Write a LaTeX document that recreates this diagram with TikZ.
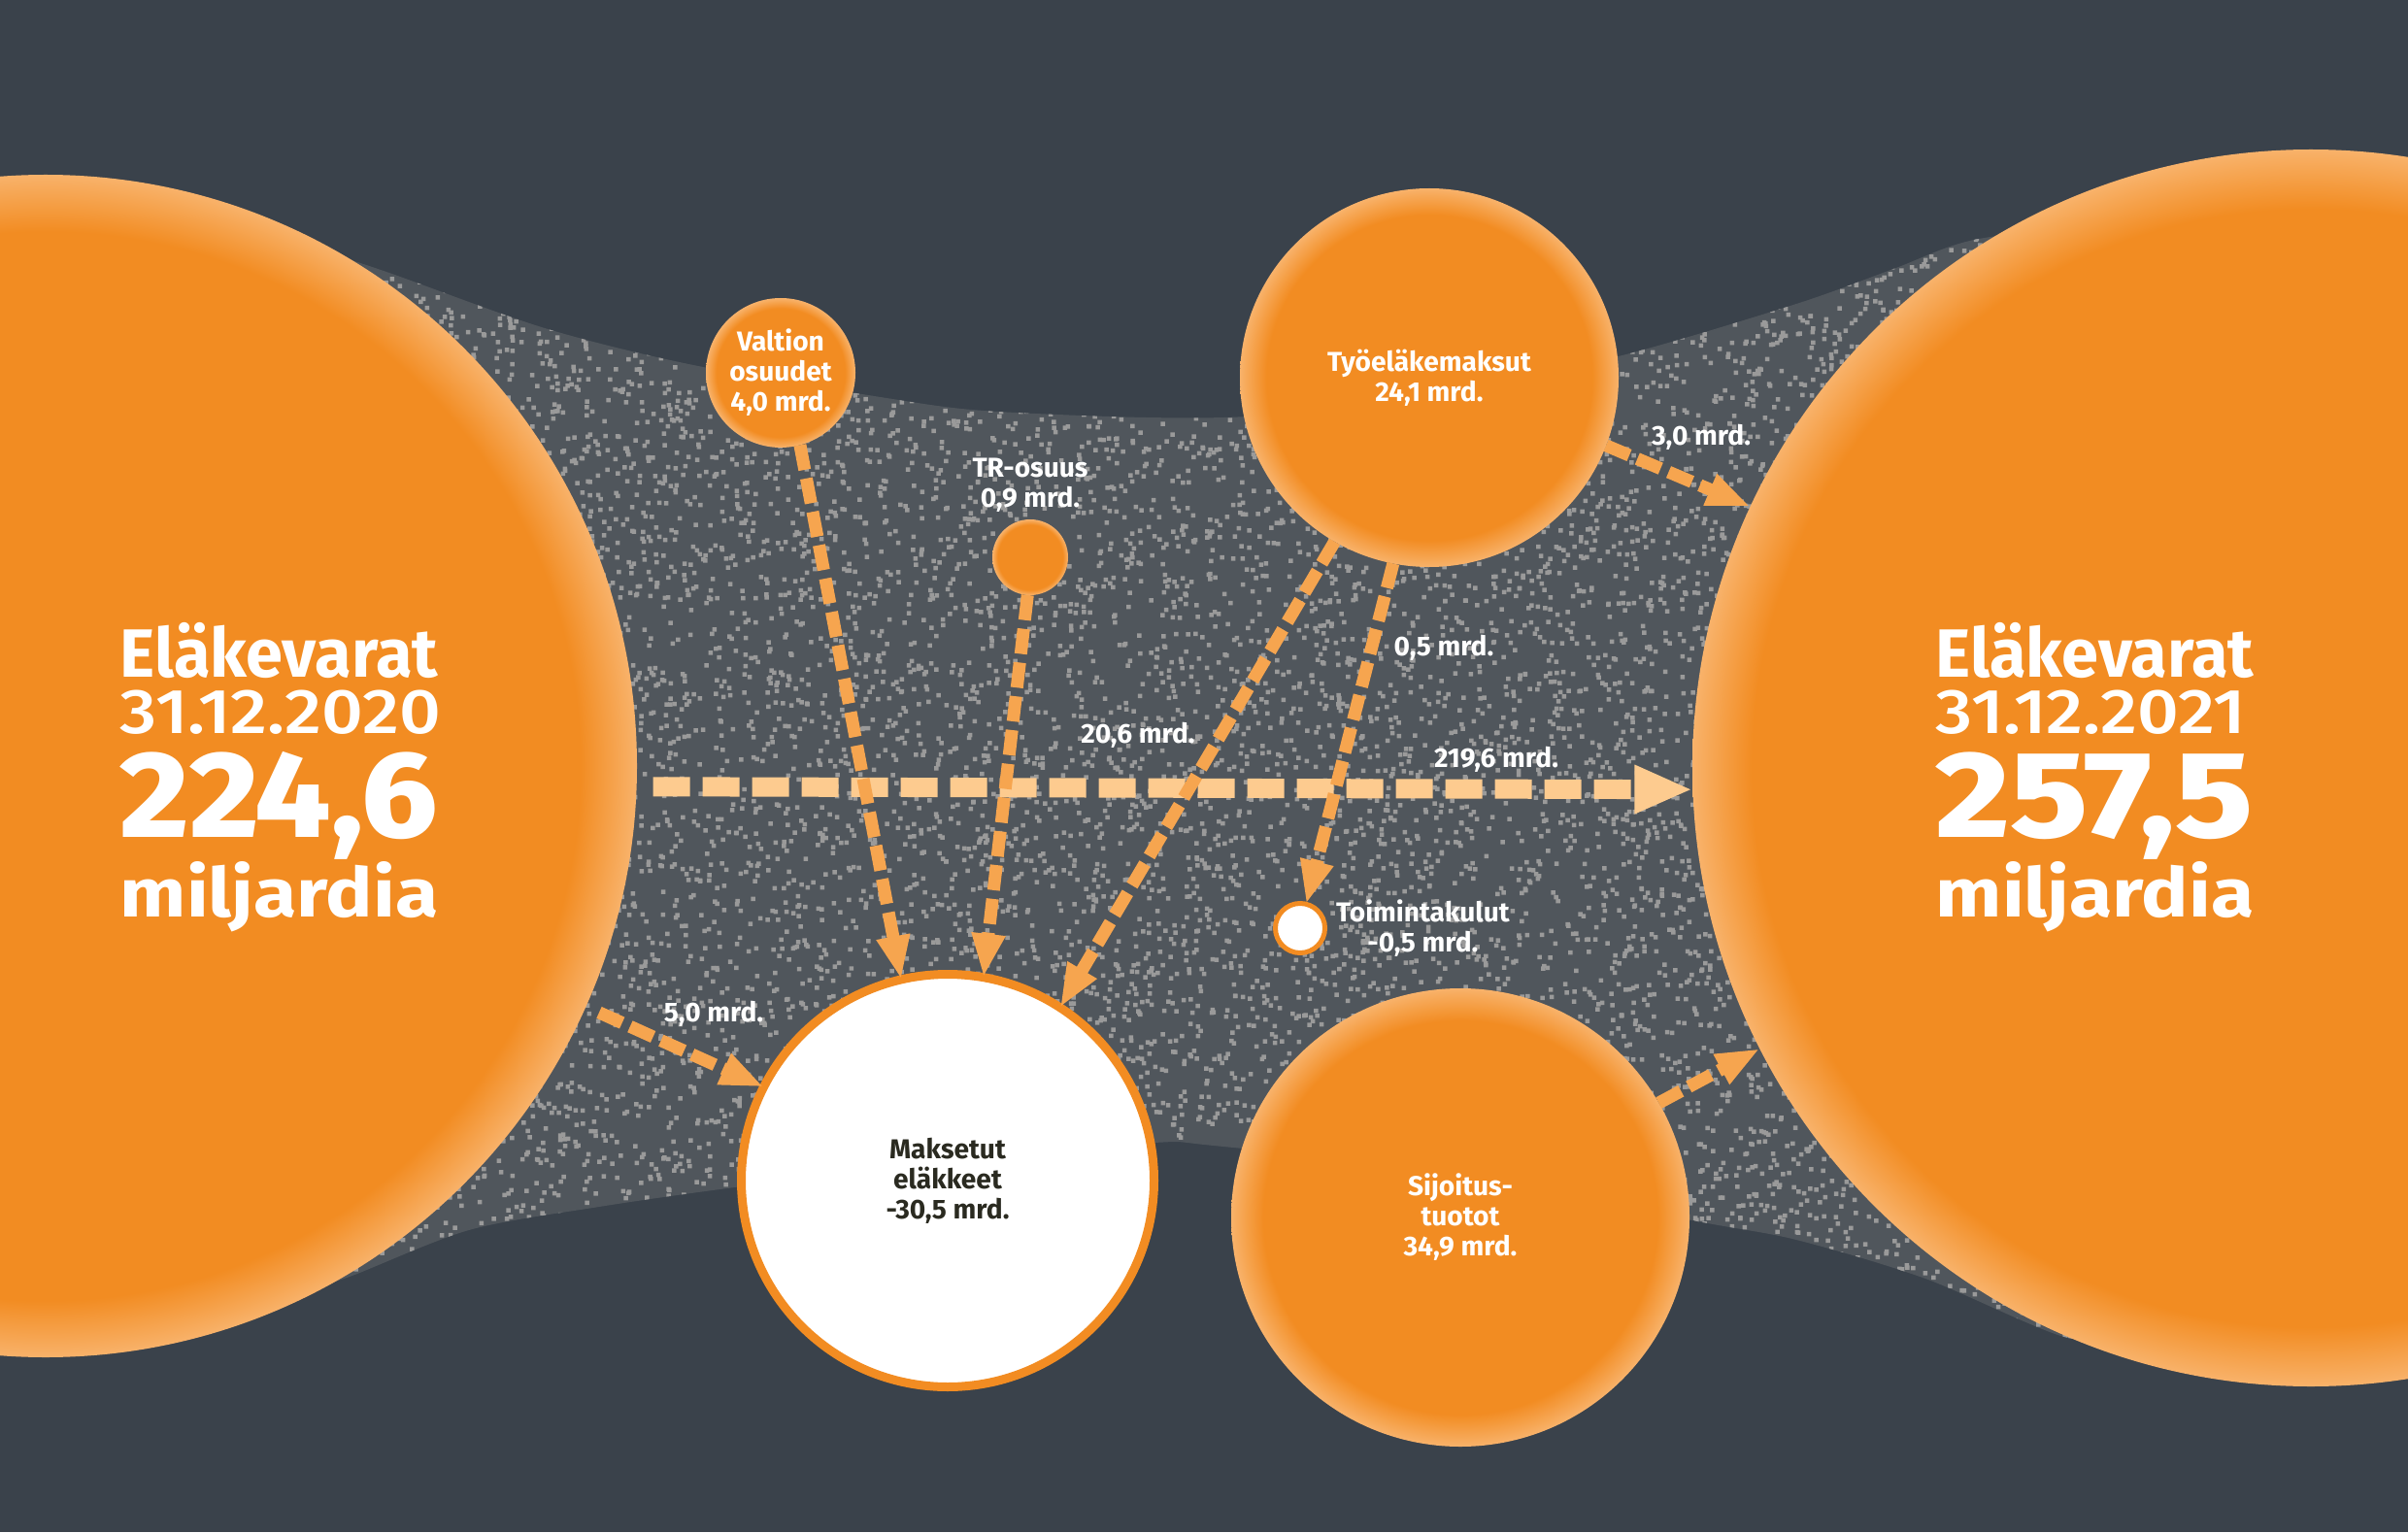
\documentclass[tikz,border=0pt]{standalone}
\usepackage{fontspec}
\setmainfont{Fira Sans}
\newfontfamily\medfont{Fira Sans Medium}
\newfontfamily\heavyfont{Fira Sans ExtraBold}
\usetikzlibrary{arrows.meta,positioning}

\definecolor{bgSlate}{HTML}{3A424B}
\definecolor{noiseBase}{HTML}{50565C}
\definecolor{speckGray}{HTML}{9A9A9A}
\definecolor{orMain}{HTML}{F28C22}
\definecolor{orRim}{HTML}{F8B26A}
\definecolor{arrowOr}{HTML}{F6A54F}
\definecolor{arrowPale}{HTML}{FDCB8F}
\definecolor{textDark}{HTML}{2A2A20}

\pgfdeclareradialshading{rimglow}{\pgfpoint{0bp}{0bp}}{color(0bp)=(orMain); color(21.5bp)=(orMain); color(25bp)=(orRim); color(50bp)=(orRim)}
\pgfdeclareradialshading{bigglow}{\pgfpoint{0bp}{0bp}}{color(0bp)=(orMain); color(22.6bp)=(orMain); color(25bp)=(orRim); color(50bp)=(orRim)}

\newcommand\smalllbl{\bfseries\fontsize{8}{8.8}\selectfont}
\newcommand\headfont{\bfseries\fontsize{20}{20}\selectfont}
\newcommand\datefont{\medfont\fontsize{18.5}{18.5}\selectfont}
\newcommand\sumfont{\heavyfont\fontsize{36}{36}\selectfont}

\newcommand\bandoutline{plot[smooth] coordinates {(3.0,13.3) (3.98,12.98) (5.61,12.40) (7.14,12.02) (9.13,11.68) (10.13,11.55) (11.80,11.48) (13.00,11.50) (14.72,11.70) (16.67,12.11) (18.50,12.65) (19.50,13.01) (20.33,13.31) (21.8,13.5)}
  -- plot[smooth] coordinates {(21.8,2.2) (21.30,2.00) (19.83,2.61) (18.50,3.01) (17.43,3.21) (15.0,3.70) (12.50,3.98) (11.88,4.01) (10.0,3.85) (7.64,3.56) (6.17,3.35) (4.83,3.11) (3.60,2.63) (3.0,2.45)} -- cycle}

\tikzset{
  fund/.style={circle, inner sep=0pt, outer sep=0pt, shade, shading=bigglow},
  flowball/.style={circle, inner sep=0pt, outer sep=0pt, shade, shading=rimglow, text=white, align=center, font=\smalllbl},
  outball/.style={circle, inner sep=0pt, outer sep=0pt, fill=white, draw=orMain},
  numlbl/.style={font=\smalllbl, text=white, inner sep=0pt},
  lbl/.style={numlbl, align=center},
  biglbl/.style={anchor=base west, inner sep=0pt, text=white},
  flowarrow/.style={draw=arrowOr, line width=0.13cm, dash pattern=on 0.26cm off 0.09cm, -{Triangle[length=0.45cm,width=0.32cm]}},
  mainflow/.style={draw=arrowPale, line width=0.2cm, dash pattern=on 0.38cm off 0.13cm, -{Triangle[length=0.6cm,width=0.46cm]}}
}

\begin{document}
\begin{tikzpicture}[x=1cm,y=1cm]
\useasboundingbox (0,0) rectangle (24.8,15.78);
\fill[bgSlate] (0,0) rectangle (24.8,15.78);

\fill[noiseBase] \bandoutline;
\begin{scope}
\clip \bandoutline;
\pgfmathsetseed{4711}
\foreach \c in {1,...,16}{\fill[speckGray] \foreach \k in {1,...,900}{({3+19*rnd},{1.9+12*rnd}) rectangle ++(0.045,0.045)};}
\end{scope}

\node[fund, minimum size=12.18cm] (oldfund) at (0.47,7.89) {};
\node[fund, minimum size=12.74cm] (newfund) at (23.80,7.87) {};
\node[flowball, minimum size=1.54cm] (valtion) at (8.04,11.94) {Valtion\\osuudet\\4,0 mrd.};
\node[flowball, minimum size=0.78cm] (tr) at (10.61,10.04) {};
\node[flowball, minimum size=3.90cm] (tyel) at (14.72,11.89) {Työeläkemaksut\\24,1 mrd.};
\node[flowball, minimum size=4.72cm] (sijoitus) at (15.04,3.24) {Sijoitus-\\tuotot\\34,9 mrd.};
\node[outball, line width=0.09cm, minimum size=4.25cm, text=textDark, font=\smalllbl, align=center] (maksetut) at (9.76,3.62) {Maksetut\\eläkkeet\\-30,5 mrd.};
\node[outball, line width=0.05cm, minimum size=0.51cm] (toim) at (13.39,6.22) {};

\draw[mainflow, shorten <=0.17cm] (oldfund.-2.6) -- (newfund.182.3);
\draw[flowarrow] (valtion.-75) -- (maksetut.103);
\draw[flowarrow] (tr.-94) -- (maksetut.80.6);
\draw[flowarrow] (tyel.-120.6) -- (maksetut.57);
\draw[flowarrow] (tyel.-101) -- (toim.76);
\draw[flowarrow] (tyel.-21.1) -- (newfund.155.4);
\draw[flowarrow, shorten <=0.15cm] (oldfund.-24.2) -- (maksetut.153.4);
\draw[flowarrow] (sijoitus.30.1) -- (newfund.207.7);

\node[lbl, above=0.07cm of tr] (trlbl) {TR-osuus\\0,9 mrd.};
\node[lbl, right=0.11cm of toim] (toimlbl) {Toimintakulut\\-0,5 mrd.};
\node[numlbl] (l50) at (7.35,5.34) {5,0 mrd.};
\node[numlbl] (l206) at (11.72,8.21) {20,6 mrd.};
\node[numlbl] (l2196) at (15.41,7.96) {219,6 mrd.};
\node[numlbl] (l05) at (14.87,9.11) {0,5 mrd.};
\node[numlbl] (l30) at (17.52,11.28) {3,0 mrd.};

\node[biglbl, font=\headfont] (oldhead) at (1.23,8.81) {\scalebox{0.975}[1]{Eläkevarat}};
\node[biglbl, font=\datefont] (olddate) at (1.23,8.23) {\scalebox{1.15}[1]{31.12.2020}};
\node[biglbl, font=\sumfont] (oldsum) at (1.23,7.16) {\scalebox{1.08}[1]{224,6}};
\node[biglbl, font=\headfont] (oldunit) at (1.23,6.34) {\scalebox{1.15}[1]{miljardia}};
\node[biglbl, font=\headfont] (newhead) at (19.93,8.81) {\scalebox{0.975}[1]{Eläkevarat}};
\node[biglbl, font=\datefont] (newdate) at (19.93,8.23) {\scalebox{1.15}[1]{31.12.2021}};
\node[biglbl, font=\sumfont] (newsum) at (19.93,7.16) {\scalebox{1.16}[1]{257,5}};
\node[biglbl, font=\headfont] (newunit) at (19.93,6.34) {\scalebox{1.15}[1]{miljardia}};
\end{tikzpicture}
\end{document}
